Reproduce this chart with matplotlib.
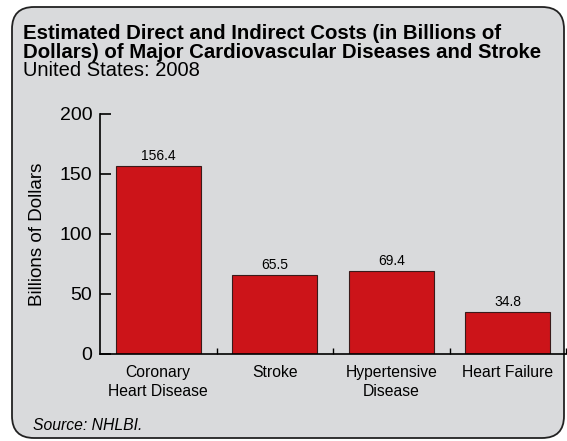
import numpy as np
import matplotlib.pyplot as plt
from matplotlib.patches import FancyBboxPatch

categories = ["Coronary\nHeart Disease", "Stroke", "Hypertensive\nDisease", "Heart Failure"]
costs = [156.4, 65.5, 69.4, 34.8]
value_labels = ["156.4", "65.5", "69.4", "34.8"]
y_ticks = [0, 50, 100, 150, 200]

bg = "#d9dadc"
bar_color = "#cc1419"
font = "Liberation Sans"

fig = plt.figure(figsize=(5.67, 4.41), dpi=100)
fig.patch.set_facecolor("white")

# rounded grey panel on a background axes
bg_ax = fig.add_axes([0, 0, 1, 1], zorder=-1)
bg_ax.set_xlim(0, 567)
bg_ax.set_ylim(441, 0)
bg_ax.axis("off")
panel = FancyBboxPatch(
    (12, 7), 552, 431,
    boxstyle="round,pad=0,rounding_size=22",
    facecolor=bg, edgecolor="#222222", linewidth=1.3,
)
bg_ax.add_patch(panel)

fig.text(23 / 567, 1 - 43 / 441,
         "Estimated Direct and Indirect Costs (in Billions of\n"
         "Dollars) of Major Cardiovascular Diseases and Stroke",
         fontsize=14.7, fontweight="bold", family=font,
         va="center", ha="left", linespacing=0.98)
fig.text(23 / 567, 1 - 71 / 441, "United States: 2008",
         fontsize=14.5, family=font, va="center", ha="left")
fig.text(33 / 567, 1 - 425 / 441, "Source: NHLBI.",
         fontsize=11.3, style="italic", family=font,
         va="center", ha="left")

ax = fig.add_axes([100 / 567, 1 - 354 / 441, 466 / 567, 240 / 441])
ax.patch.set_alpha(0)
x = np.arange(len(categories))
ax.bar(x, costs, width=0.73, color=bar_color, edgecolor="#3a1a1a", linewidth=0.8)

for xi, v, lab in zip(x, costs, value_labels):
    ax.text(xi, v + 2.5, lab, ha="center", va="bottom", fontsize=10, family=font)

ax.set_xlim(-0.5, 3.5)
ax.set_ylim(0, 200)
ax.set_yticks(y_ticks)
ax.set_yticklabels([str(t) for t in y_ticks], fontsize=14, family=font)
ax.tick_params(axis="y", direction="in", length=8, width=1.2, pad=5.5)

ax.set_xticks(x)
ax.set_xticklabels(categories, fontsize=11.3, family=font, linespacing=1.3)
ax.tick_params(axis="x", length=0, pad=8)
ax.set_xticks([0.5, 1.5, 2.5, 3.5], minor=True)
ax.tick_params(axis="x", which="minor", direction="in", length=4, width=1.0)

ax.set_ylabel("Billions of Dollars", fontsize=13.5, family=font, labelpad=10)

for side in ["top", "right"]:
    ax.spines[side].set_visible(False)
for side in ["left", "bottom"]:
    ax.spines[side].set_linewidth(1.2)

fig.savefig("out.png", dpi=100)
